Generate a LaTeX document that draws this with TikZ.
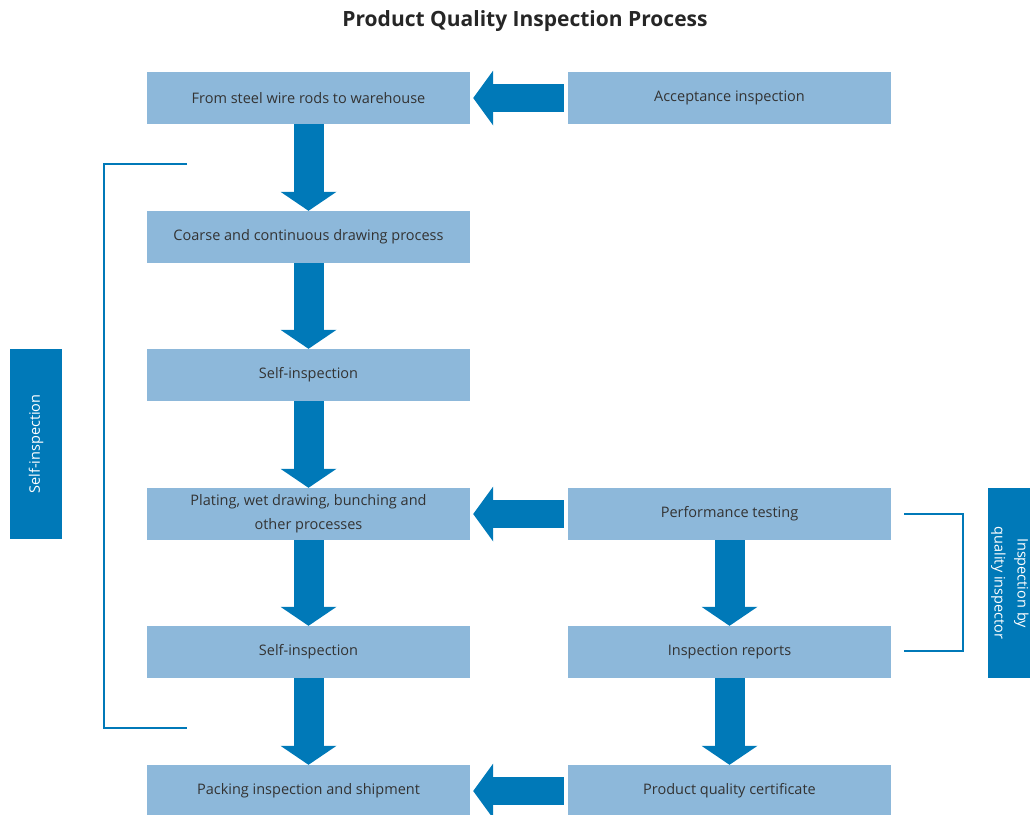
\documentclass[tikz,border=0pt]{standalone}
\usepackage{fontspec}
\setmainfont{Open Sans}
\usetikzlibrary{arrows.meta}
\definecolor{boxblue}{HTML}{8DB8DA}
\definecolor{flowblue}{HTML}{0079B8}
\definecolor{inktext}{HTML}{333333}

\begin{document}
\begin{tikzpicture}[x=1pt,y=-1pt,
  stage/.style={fill=boxblue, text=inktext, minimum width=323pt, minimum height=52pt,
    inner sep=0pt, align=center, font=\fontsize{14.5}{24}\selectfont},
  sidebox/.style={fill=flowblue, text=white, minimum width=190pt, minimum height=52pt,
    inner sep=0pt, align=center, font=\fontsize{14.5}{23}\selectfont},
  flowdown/.style={draw=flowblue, line width=30pt,
    -{Triangle[length=19pt, width=56pt, line width=0pt]}},
  flowleft/.style={draw=flowblue, line width=28pt,
    -{Triangle[length=20pt, width=55pt, line width=0pt]}, shorten <=4pt, shorten >=3pt},
  bracket/.style={draw=flowblue, line width=2.8pt}]
  \path[use as bounding box, clip] (0,0) rectangle (1030,814);
  \node[font=\fontsize{21}{24}\selectfont\bfseries, text=black!85] (title) at (525,21) {Product Quality Inspection Process};
  % left column
  \node[stage] (rods) at (308.5,98) {From steel wire rods to warehouse};
  \node[stage] (coarse) at (308.5,237) {Coarse and continuous drawing process};
  \node[stage] (self1) at (308.5,375) {Self-inspection};
  \node[stage] (plating) at (308.5,514) {Plating, wet drawing, bunching and\\other processes};
  \node[stage] (self2) at (308.5,652) {Self-inspection};
  \node[stage] (packing) at (308.5,791) {Packing inspection and shipment};
  % right column
  \node[stage] (accept) at (729.5,98) {Acceptance inspection};
  \node[stage] (perform) at (729.5,514) {Performance testing};
  \node[stage] (reports) at (729.5,652) {Inspection reports};
  \node[stage] (cert) at (729.5,791) {Product quality certificate};
  % side labels
  \node[sidebox, rotate=90] (selfside) at (36,444) {Self-inspection};
  \node[sidebox, rotate=-90, minimum height=44pt] (inspside) at (1010,583) {Inspection by\\quality inspector};
  % flow arrows
  \draw[flowdown] (rods) -- (coarse);
  \draw[flowdown] (coarse) -- (self1);
  \draw[flowdown] (self1) -- (plating);
  \draw[flowdown] (plating) -- (self2);
  \draw[flowdown] (self2) -- (packing);
  \draw[flowdown] (perform) -- (reports);
  \draw[flowdown] (reports) -- (cert);
  \draw[flowleft] (accept) -- (rods);
  \draw[flowleft] (perform.west) -- (perform.west -| plating.east);
  \draw[flowleft] (cert) -- (packing);
  % brackets
  \coordinate (selftop) at (187,164);
  \coordinate (selfbot) at (187,728);
  \draw[bracket] (selftop) -- (104,164) |- (selfbot);
  \coordinate (insptop) at (904,514);
  \coordinate (inspbot) at (904,651);
  \draw[bracket] (insptop) -- (963,514) |- (inspbot);
\end{tikzpicture}
\end{document}
